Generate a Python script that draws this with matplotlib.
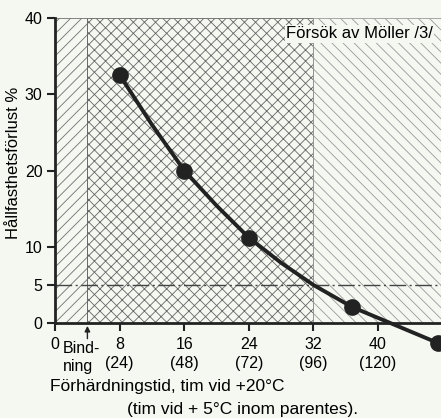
import matplotlib.pyplot as plt
import numpy as np

plt.rcParams['font.family'] = ['Liberation Sans', 'DejaVu Sans']
plt.rcParams['hatch.linewidth'] = 0.6

# measured points (hours at +20C, strength loss %)
pts_x = [8, 16, 24, 36.8, 47.4]
pts_y = [32.5, 20, 11.2, 2.1, -2.6]
# extra points
curve_x = [8, 12, 16, 20, 24, 28, 32, 36.8, 42, 47.4]
curve_y = [32.5, 26.0, 20, 15.4, 11.2, 7.9, 5.0, 2.1, -0.2, -2.6]

xticks = [0, 8, 16, 24, 32, 40]
xticklabels = ['0', '8\n(24)', '16\n(48)', '24\n(72)', '32\n(96)', '40\n(120)']
yticks = [0, 5, 10, 20, 30, 40]
binding = 4
zone_edges = [0, binding, 32, 47.8]

bg = '#f5f7f1'
fig = plt.figure(figsize=(4.41, 4.18), dpi=100, facecolor=bg)
ax = fig.add_axes([0.125, 0.227, 0.875, 0.73], facecolor=bg)

hatches = ['///', 'xxx', '\\\\\\']
hcolors = ['#707070', '#666666', '#9a9a9a']
for i in range(3):
    ax.axvspan(zone_edges[i], zone_edges[i + 1], facecolor='none', edgecolor=hcolors[i],
               hatch=hatches[i], linewidth=0.6, zorder=1)

ax.axhline(5, color='#444444', lw=1.0, ls=(0, (12, 2.5, 1.5, 2.5)), zorder=2)

ax.plot(curve_x, curve_y, color='#222222', lw=2.8, zorder=3, clip_on=False,
        solid_capstyle='round', solid_joinstyle='round')
ax.plot(pts_x, pts_y, 'o', color='#222222', ms=11, zorder=4, clip_on=False)

ax.set_xlim(zone_edges[0], zone_edges[-1])
ax.set_ylim(0, 40)
for s in ['top', 'right']:
    ax.spines[s].set_visible(False)
for s in ['left', 'bottom']:
    ax.spines[s].set_linewidth(2)
    ax.spines[s].set_color('#222222')

ax.set_yticks(yticks)
ax.set_yticklabels([str(v) for v in yticks], fontsize=11.5)
ax.set_xticks(xticks)
ax.set_xticklabels(xticklabels, fontsize=11.5, linespacing=1.3)
ax.tick_params(axis='both', length=6, width=1.5, color='#222222', pad=3)
ax.tick_params(axis='x', pad=4)

ax.annotate('', xy=(binding, 0), xytext=(binding, -2.4),
            arrowprops=dict(arrowstyle='-|>', color='#222222', lw=1, mutation_scale=8),
            annotation_clip=False)
ax.text(1.0, -2.4, 'Bind-\nning', ha='left', va='top', fontsize=11.5, linespacing=1.2)

ax.text(46.8, 37.9, 'Försök av Möller /3/', ha='right', va='center', fontsize=12,
        bbox=dict(facecolor=bg, edgecolor='none', pad=1))

ax.set_ylabel('Hållfasthetsförlust %', fontsize=12)
ax.yaxis.set_label_coords(-0.088, 0.525)
fig.text(0.113, 0.075, 'Förhärdningstid, tim vid +20°C', fontsize=12.5,
         ha='left', va='center')
fig.text(0.288, 0.02, '(tim vid + 5°C inom parentes).', fontsize=12.5,
         ha='left', va='center')

plt.savefig('out.png', dpi=100, facecolor=bg)
